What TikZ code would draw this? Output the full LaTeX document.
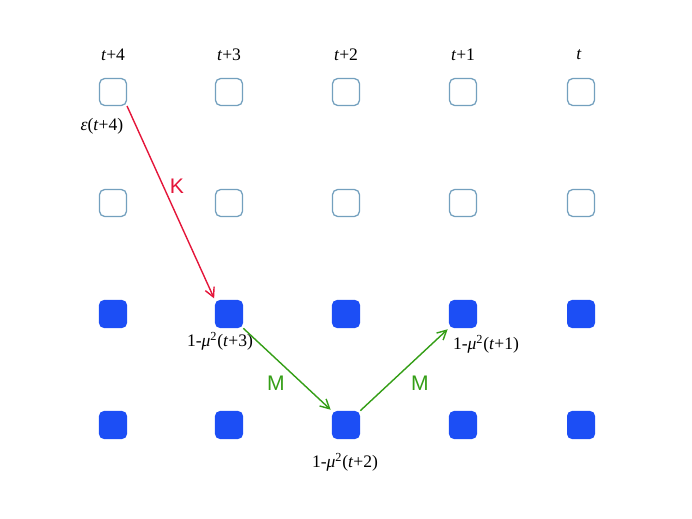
\documentclass[tikz,border=0pt]{standalone}
\usepackage{fontspec}
\setmainfont{Liberation Serif}
\newfontfamily\arialfont{Liberation Sans}
\usetikzlibrary{arrows.meta}
\definecolor{cellblue}{RGB}{28,78,245}
\definecolor{cellrim}{RGB}{115,160,190}
\definecolor{kred}{RGB}{228,22,58}
\definecolor{mgreen}{RGB}{52,158,22}

\begin{document}
\begin{tikzpicture}[x=0.025cm, y=-0.025cm,
emptycell/.style={draw=cellrim, line width=0.9pt, rounded corners=3.5pt, fill=white, minimum size=0.67cm, inner sep=0pt},
fullcell/.style={fill=cellblue, rounded corners=3.5pt, minimum size=0.7cm, inner sep=0pt},
lab/.style={font=\fontsize{12.5}{14}\selectfont, inner sep=1pt},
big/.style={font=\arialfont\fontsize{15}{17}\selectfont, inner sep=1pt},
arrow/.style={-{Straight Barb[length=2.3mm, width=2.4mm]}, line width=1pt, shorten >=1pt}
]
\useasboundingbox (0,0) rectangle (692,519);

% grid of cells, columns t+4 ... t
\foreach \x [count=\i] in {113,229,346,463,581} {
  \node[emptycell] (c\i1) at (\x,92) {};
  \node[emptycell] (c\i2) at (\x,203) {};
  \node[fullcell] (c\i3) at (\x,314) {};
  \node[fullcell] (c\i4) at (\x,425) {};
}

% time labels
\node[lab] (h1) at (113,55) {\textit{t}+4};
\node[lab] (h2) at (229,55) {\textit{t}+3};
\node[lab] (h3) at (346,55) {\textit{t}+2};
\node[lab] (h4) at (463,55) {\textit{t}+1};
\node[lab] (h5) at (579,55) {\textit{t}};

% value labels
\node[lab] (e4) at (102,126) {\textit{ε}(\textit{t}+4)};
\node[lab] (m3) at (220,341) {1-\textit{μ}\textsuperscript{2}(\textit{t}+3)};
\node[lab] (m2) at (345,462) {1-\textit{μ}\textsuperscript{2}(\textit{t}+2)};
\node[lab] (m1) at (486,344) {1-\textit{μ}\textsuperscript{2}(\textit{t}+1)};

% arrows
\draw[arrow, kred] (c11.south east) -- (c23.north west);
\draw[arrow, mgreen] (c23.south east) -- (c34.north west);
\draw[arrow, mgreen] (c34.north east) -- (c43.south west);

\node[big, text=kred] (k) at (177,186) {K};
\node[big, text=mgreen] (ma) at (276,383) {M};
\node[big, text=mgreen] (mb) at (420,383) {M};
\end{tikzpicture}
\end{document}
